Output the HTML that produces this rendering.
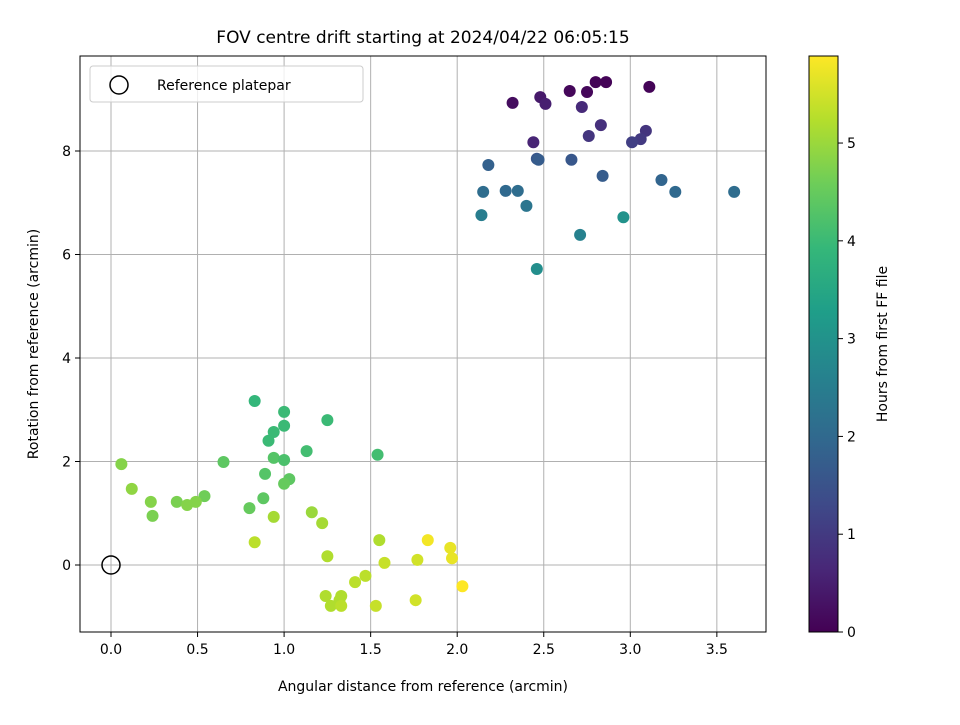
<!DOCTYPE html>
<html><head><meta charset="utf-8"><style>
body{margin:0;background:#fff}
svg text{font-family:"DejaVu Sans","Liberation Sans",sans-serif;fill:#000}
</style></head><body>
<svg id="chart" width="960" height="720" xmlns="http://www.w3.org/2000/svg">
<rect width="960" height="720" fill="#fff"/>
<g id="grid"></g>
<g id="points"></g>
<g id="axes"></g>
</svg>
<script>
const xVals=[2.32,2.48,2.51,2.65,2.75,2.80,2.86,3.11,2.72,2.83,2.76,2.44,3.09,3.06,3.01,2.46,2.47,2.66,2.18,2.84,3.18,2.15,2.28,2.35,3.26,3.60,2.40,2.14,2.96,2.71,2.46,
0.83,1.00,1.25,0.94,1.00,0.91,1.13,1.54,0.94,1.00,0.65,0.06,0.89,1.03,1.00,0.12,0.54,0.23,0.38,0.49,0.44,0.80,0.88,0.24,1.16,0.94,1.22,0.83,1.55,1.83,1.96,1.25,1.97,1.77,1.58,1.47,1.41,2.03,1.24,1.33,1.32,1.76,1.27,1.33,1.53];
const yVals=[8.93,9.04,8.91,9.16,9.14,9.33,9.33,9.24,8.85,8.50,8.29,8.17,8.39,8.23,8.17,7.85,7.83,7.83,7.73,7.52,7.44,7.21,7.23,7.23,7.21,7.21,6.94,6.76,6.72,6.38,5.72,
3.17,2.96,2.80,2.57,2.69,2.40,2.20,2.13,2.07,2.03,1.99,1.95,1.76,1.66,1.57,1.47,1.33,1.22,1.22,1.22,1.16,1.10,1.29,0.95,1.02,0.93,0.81,0.44,0.48,0.48,0.33,0.17,0.13,0.10,0.04,-0.21,-0.33,-0.41,-0.60,-0.60,-0.68,-0.68,-0.79,-0.79,-0.79];
const hours=[0.2,0.4,0.5,0.1,0.1,0.05,0.05,0.05,0.7,0.8,0.9,0.6,0.9,1.0,1.1,1.6,1.7,1.6,1.8,1.7,1.9,2.1,2.0,2.1,2.0,2.1,2.3,2.5,3.0,2.6,2.9,
3.9,4.0,4.0,4.0,4.0,4.0,4.1,4.1,4.3,4.2,4.4,4.8,4.3,4.4,4.5,4.9,4.6,4.8,4.7,4.8,4.8,4.5,4.4,4.7,5.0,5.1,5.1,5.3,5.2,5.8,5.7,5.2,5.7,5.5,5.4,5.3,5.3,5.9,5.2,5.2,5.2,5.5,5.2,5.3,5.4];
const xTicks=[0.0,0.5,1.0,1.5,2.0,2.5,3.0,3.5];
const yTicks=[0,2,4,6,8];
const cTicks=[0,1,2,3,4,5];
const L=80,R=766,T=56,B=632;
const X=v=>111+(v)*173.1, Y=v=>565-v*51.75;
const CB={x:809,w:29,top:56,bot:632,max:5.89};
const C=v=>CB.bot-(v/CB.max)*(CB.bot-CB.top);
const vir=[[68,1,84],[72,40,120],[62,74,137],[49,104,142],[38,130,142],[31,158,137],[53,183,121],[109,205,89],[180,222,44],[253,231,37]];
function cmap(t){t=Math.max(0,Math.min(1,t));const f=t*(vir.length-1),i=Math.min(vir.length-2,Math.floor(f)),r=f-i;
return 'rgb('+vir[i].map((c,k)=>Math.round(c+(vir[i+1][k]-c)*r)).join(',')+')';}
const NS='http://www.w3.org/2000/svg';
function mk(parent,tag,attrs,txt){const e=document.createElementNS(NS,tag);for(const k in attrs)e.setAttribute(k,attrs[k]);if(txt!==undefined)e.textContent=txt;parent.appendChild(e);return e;}
const svg=document.getElementById('chart'),grid=document.getElementById('grid'),pts=document.getElementById('points'),ax=document.getElementById('axes');
xTicks.forEach(t=>{const g=mk(grid,'line',{x1:X(t),x2:X(t),y1:T,y2:B,stroke:'#b0b0b0','stroke-width':1});


const tk=mk(ax,'line',{x1:X(t),x2:X(t),y1:B,y2:B+5,stroke:'#000'});


const lb=mk(ax,'text',{x:X(t),y:B+22,'text-anchor':'middle','font-size':14},t.toFixed(1));

});
yTicks.forEach(t=>{const g=mk(grid,'line',{x1:L,x2:R,y1:Y(t),y2:Y(t),stroke:'#b0b0b0','stroke-width':1});


const tk=mk(ax,'line',{x1:L-5,x2:L,y1:Y(t),y2:Y(t),stroke:'#000'});


const lb=mk(ax,'text',{x:L-9,y:Y(t)+5,'text-anchor':'end','font-size':14},String(t));

});
xVals.forEach((xv,i)=>{const c=mk(pts,'circle',{cx:X(xv),cy:Y(yVals[i]),r:6,fill:cmap(hours[i]/CB.max)});

});
const ref=mk(pts,'circle',{cx:X(0),cy:Y(0),r:9,fill:'none',stroke:'#000','stroke-width':1.5});


const fr=mk(ax,'rect',{x:L,y:T,width:R-L,height:B-T,fill:'none',stroke:'#000','stroke-width':1});


const lg=mk(ax,'g',{});


mk(lg,'rect',{x:90,y:66,width:273,height:36,rx:3,fill:'#fff','fill-opacity':0.8,stroke:'#ccc'});
mk(lg,'circle',{cx:119,cy:85,r:9,fill:'none',stroke:'#000','stroke-width':1.5});
const lt=mk(lg,'text',{x:157,y:90,'font-size':14},'Reference platepar');


const tt=mk(ax,'text',{x:423,y:43,'text-anchor':'middle','font-size':17},'FOV centre drift starting at 2024/04/22 06:05:15');


const xt=mk(ax,'text',{x:423,y:691,'text-anchor':'middle','font-size':14},'Angular distance from reference (arcmin)');


const yt=mk(ax,'text',{x:38,y:344,'text-anchor':'middle','font-size':14,transform:'rotate(-90 38 344)'},'Rotation from reference (arcmin)');


const defs=mk(svg,'defs',{});
const gr=mk(defs,'linearGradient',{id:'vg',x1:0,y1:1,x2:0,y2:0});
vir.forEach((c,i)=>mk(gr,'stop',{offset:(i/(vir.length-1)),'stop-color':'rgb('+c.join(',')+')'}));
const cb=mk(ax,'rect',{x:CB.x,y:CB.top,width:CB.w,height:CB.bot-CB.top,fill:'url(#vg)',stroke:'#000'});


cTicks.forEach(t=>{const tk=mk(ax,'line',{x1:CB.x+CB.w,x2:CB.x+CB.w+5,y1:C(t),y2:C(t),stroke:'#000'});


const lb=mk(ax,'text',{x:CB.x+CB.w+9,y:C(t)+5,'font-size':14},String(t));

});
const ct=mk(ax,'text',{x:887,y:344,'text-anchor':'middle','font-size':14,transform:'rotate(-90 887 344)'},'Hours from first FF file');


</script>
</body></html>
